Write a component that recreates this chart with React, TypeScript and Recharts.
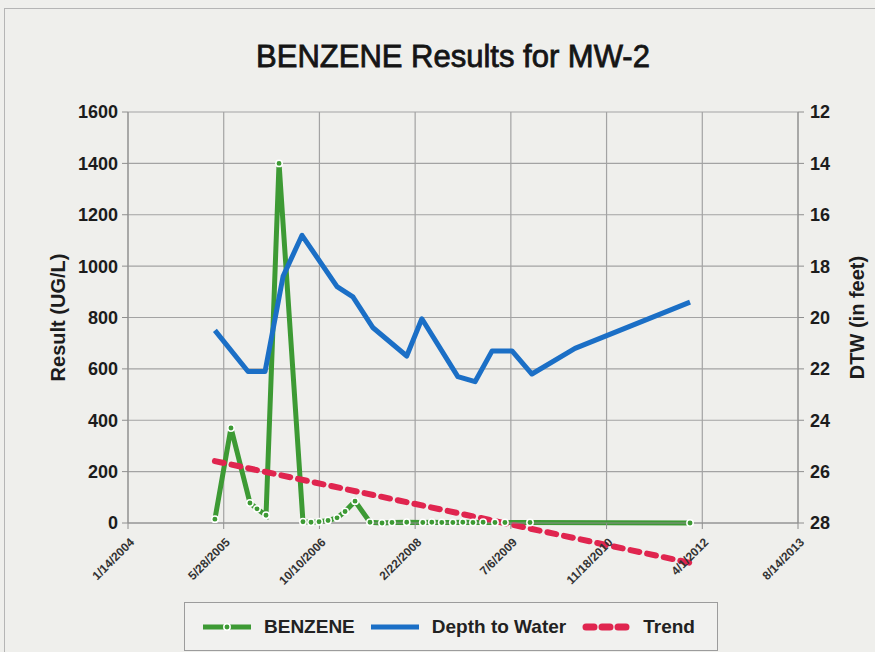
import { CartesianGrid, ComposedChart, Legend, Line, ReferenceLine, XAxis, YAxis } from "recharts";

const FONT = '"Liberation Sans", Arial, sans-serif';
const DAY_MS = 86400000;
const toDay = (iso: string) => Date.parse(iso + "T00:00:00Z") / DAY_MS;

// x axis (ticks every 500 days, as in the Excel original)
const tickDates = [
  "2004-01-14", "2005-05-28", "2006-10-10", "2008-02-22",
  "2009-07-06", "2010-11-18", "2012-04-01", "2013-08-14",
];
const resultTicks = [0, 200, 400, 600, 800, 1000, 1200, 1400, 1600];
const dtwTicks = [12, 14, 16, 18, 20, 22, 24, 26, 28];

// BENZENE (ug/L)
const benzeneDates = [
  "2005-04-12", "2005-07-05", "2005-10-12", "2005-11-18", "2006-01-04", "2006-03-13",
  "2006-07-16", "2006-08-27", "2006-10-08", "2006-11-24", "2007-01-10", "2007-02-21",
  "2007-04-14", "2007-07-01", "2007-09-02", "2007-10-24", "2008-01-09", "2008-04-02",
  "2008-05-19", "2008-07-10", "2008-09-06", "2008-10-28", "2008-12-20", "2009-02-11",
  "2009-04-14", "2009-06-05", "2009-10-14", "2012-01-28",
];
const benzeneValues = [
  15, 370, 78, 55, 30, 1400,
  5, 3, 5, 10, 20, 45,
  85, 3, 0, 2, 3, 2,
  3, 2, 2, 3, 2, 3,
  2, 2, 2, 0,
];

// Depth to water (feet)
const dtwDates = [
  "2005-04-12", "2005-10-02", "2005-12-30", "2006-04-03", "2006-07-11", "2007-01-10",
  "2007-04-03", "2007-07-17", "2008-01-09", "2008-03-28", "2008-10-02", "2008-12-31",
  "2009-03-30", "2009-07-12", "2009-10-24", "2010-06-06", "2012-01-28",
];
const dtwValues = [
  20.5, 22.1, 22.1, 18.4, 16.8, 18.8,
  19.2, 20.4, 21.5, 20.05, 22.3, 22.5,
  21.3, 21.3, 22.2, 21.2, 19.4,
];

// linear trend of BENZENE (end points)
const trendDates = ["2005-04-12", "2012-01-28"];
const trendValues = [241, -155];

const GREEN = "#3d9a34";
const BLUE = "#1b6fc6";
const RED = "#e0254f";
const GRID = "#a3a3a3";

const benzeneData = benzeneDates.map((d, i) => ({ t: toDay(d), value: benzeneValues[i] }));
const dtwData = dtwDates.map((d, i) => ({ t: toDay(d), value: dtwValues[i] }));
const trendSegment = trendDates.map((d, i) => ({ x: toDay(d), y: trendValues[i] }));
const xTicks = tickDates.map(toDay);

const fmtDate = (day: number) => {
  const d = new Date(day * DAY_MS);
  return `${d.getUTCMonth() + 1}/${d.getUTCDate()}/${d.getUTCFullYear()}`;
};

function DateTick({ x, y, payload }: any) {
  return (
    <g transform={`translate(${x + 4},${y + 9})`}>
      <text
        transform="rotate(-45)"
        textAnchor="end"
        dy="0.35em"
        fill="#333"
        fontSize={12}
        fontWeight="bold"
        fontFamily={FONT}
      >
        {fmtDate(payload.value)}
      </text>
    </g>
  );
}

function AxisTitle({ viewBox, value, dx }: any) {
  const cx = viewBox.x + dx;
  const cy = viewBox.y + viewBox.height / 2;
  return (
    <text
      x={cx}
      y={cy}
      transform={`rotate(-90 ${cx} ${cy})`}
      textAnchor="middle"
      dominantBaseline="central"
      fill="#1c1c1c"
      fontSize={20}
      fontWeight="bold"
      fontFamily={FONT}
    >
      {value}
    </text>
  );
}

const legendItems = [
  { name: "BENZENE", color: GREEN, kind: "dot" },
  { name: "Depth to Water", color: BLUE, kind: "line" },
  { name: "Trend", color: RED, kind: "dash" },
];

function LegendSymbol({ color, kind }: { color: string; kind: string }) {
  return (
    <svg width={52} height={14} style={{ marginRight: 11, flex: "none" }}>
      {kind === "dash" ? (
        <line x1={6} y1={7} x2={46} y2={7} stroke={color} strokeWidth={7} strokeDasharray="8 8" strokeLinecap="round" />
      ) : (
        <line x1={2} y1={7} x2={50} y2={7} stroke={color} strokeWidth={5} />
      )}
      {kind === "dot" && <circle cx={26} cy={7} r={3.2} fill={color} stroke="#fff" strokeWidth={1.5} />}
    </svg>
  );
}

function LegendBox() {
  return (
    <div
      style={{
        position: "absolute",
        left: 184,
        top: 602,
        width: 534,
        height: 49,
        boxSizing: "border-box",
        border: "1px solid #9c9c9c",
        background: "#f1f1ef",
        display: "flex",
        alignItems: "center",
        paddingLeft: 16,
        fontFamily: FONT,
        fontWeight: "bold",
        fontSize: 19,
        color: "#222",
      }}
    >
      {legendItems.map((item) => (
        <div key={item.name} style={{ display: "flex", alignItems: "center", marginRight: 14 }}>
          <LegendSymbol color={item.color} kind={item.kind} />
          <span>{item.name}</span>
        </div>
      ))}
    </div>
  );
}

export default function App() {
  return (
    <div
      style={{
        position: "absolute",
        left: 0,
        top: 0,
        width: 875,
        height: 652,
        overflow: "hidden",
        background: "#efefec",
      }}
    >
      <div
        style={{
          position: "absolute",
          left: 4,
          top: 8,
          right: 0,
          bottom: 0,
          borderTop: "1px solid #b5b5b5",
          borderLeft: "1px solid #b5b5b5",
        }}
      />
      <div
        style={{
          position: "absolute",
          left: 53,
          top: 41,
          width: 800,
          textAlign: "center",
          fontFamily: FONT,
          fontSize: 31,
          lineHeight: "31px",
          color: "#151515",
          WebkitTextStroke: "0.8px #151515",
        }}
      >
        BENZENE Results for MW-2
      </div>
      <ComposedChart width={875} height={652} margin={{ top: 112, right: 17, bottom: 59, left: 68 }}>
        <CartesianGrid yAxisId="left" stroke={GRID} strokeWidth={1.2} />
        <XAxis
          type="number"
          dataKey="t"
          domain={[xTicks[0], xTicks[xTicks.length - 1]]}
          ticks={xTicks}
          interval={0}
          height={70}
          tick={<DateTick />}
          tickSize={6}
          tickMargin={2}
          stroke="#8e8e8e"
        />
        <YAxis
          yAxisId="left"
          domain={[0, 1600]}
          ticks={resultTicks}
          interval={0}
          width={60}
          tickSize={6}
          tickMargin={4}
          stroke="#8e8e8e"
          tick={{ fill: "#1c1c1c", fontSize: 18, fontWeight: "bold", fontFamily: FONT }}
          label={{ content: (p: any) => <AxisTitle {...p} value="Result (UG/L)" dx={-10} /> }}
        />
        <YAxis
          yAxisId="right"
          orientation="right"
          reversed
          domain={[12, 28]}
          ticks={dtwTicks}
          interval={0}
          width={60}
          tickSize={6}
          tickMargin={6}
          stroke="#8e8e8e"
          tick={{ fill: "#1c1c1c", fontSize: 18, fontWeight: "bold", fontFamily: FONT }}
          label={{ content: (p: any) => <AxisTitle {...p} value="DTW (in feet)" dx={59} /> }}
        />
        <Line
          yAxisId="left"
          data={benzeneData}
          dataKey="value"
          name="BENZENE"
          type="linear"
          stroke={GREEN}
          strokeWidth={5}
          dot={{ r: 3.2, fill: GREEN, stroke: "#ffffff", strokeWidth: 1.5 }}
          isAnimationActive={false}
        />
        <Line
          yAxisId="right"
          data={dtwData}
          dataKey="value"
          name="Depth to Water"
          type="linear"
          stroke={BLUE}
          strokeWidth={5}
          strokeLinejoin="round"
          dot={false}
          isAnimationActive={false}
        />
        <ReferenceLine
          yAxisId="left"
          segment={trendSegment}
          ifOverflow="visible"
          stroke={RED}
          strokeWidth={6}
          strokeDasharray="9 8"
          strokeLinecap="round"
        />
        <Legend
          content={() => <LegendBox />}
          wrapperStyle={{ position: "absolute", left: 0, top: 0, right: "auto", bottom: "auto", width: 875, height: 0 }}
        />
      </ComposedChart>
    </div>
  );
}
